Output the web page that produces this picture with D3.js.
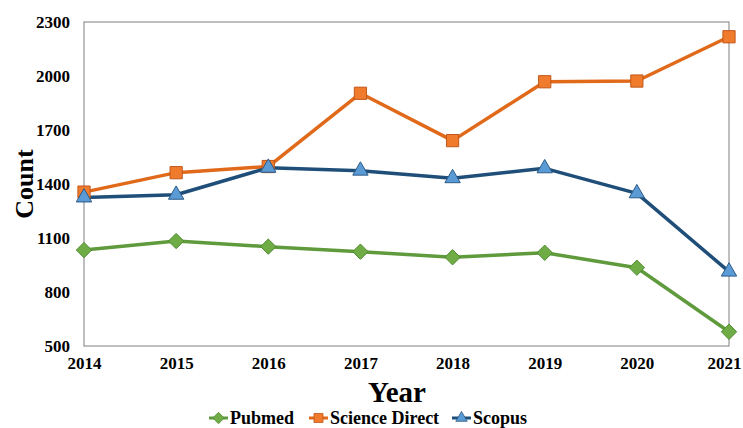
<!DOCTYPE html>
<html><head><meta charset="utf-8">
<script src="https://cdn.jsdelivr.net/npm/d3@7"></script>
<style>html,body{margin:0;padding:0;background:#fff;overflow:hidden} svg text{font-family:"Liberation Serif","Times New Roman",serif !important;font-weight:bold}</style>
</head><body><svg id="c" width="743" height="428"></svg>
<script>
const years = [2014, 2015, 2016, 2017, 2018, 2019, 2020, 2021];
const pubmed = [1033, 1083, 1052, 1024, 993, 1018, 935, 579];
const scienceDirect = [1355, 1463, 1497, 1904, 1641, 1968, 1972, 2218];
const scopus = [1325, 1340, 1490, 1474, 1432, 1487, 1348, 913];
const yTicks = [500, 800, 1100, 1400, 1700, 2000, 2300];
const seriesNames = ["Pubmed", "Science Direct", "Scopus"];

const series = [
  {name: seriesNames[0], values: pubmed, line: "#5f9a3c", fill: "#6fac46", stroke: "#4f8a30", shape: d3.symbolDiamond2, size: 150},
  {name: seriesNames[1], values: scienceDirect, line: "#e0691a", fill: "#f07b2c", stroke: "#c2571a", shape: d3.symbolSquare2, size: 190},
  {name: seriesNames[2], values: scopus, line: "#1f4e79", fill: "#5b9bd5", stroke: "#2c5a88", shape: d3.symbolTriangle2, size: 170}
];

const svg = d3.select("#c");
const L = 84, R = 729, T = 22, B = 346;
const x = d3.scaleLinear().domain([2014, 2021]).range([L, R]);
const y = d3.scaleLinear().domain([500, 2300]).range([B, T]);

svg.append("rect").attr("x", L).attr("y", T).attr("width", R - L).attr("height", B - T)
  .attr("fill", "none").attr("stroke", "#7f7f7f").attr("stroke-width", 1);

const yAxis = svg.append("g").attr("transform", `translate(${L},0)`)
  .call(d3.axisLeft(y).tickValues(yTicks).tickFormat(d3.format("d")).tickSize(0).tickPadding(14));
yAxis.select(".domain").remove();
yAxis.selectAll("text").attr("font-size", 17).attr("fill", "#000");

const xAxis = svg.append("g").attr("transform", `translate(0,${B})`)
  .call(d3.axisBottom(x).tickValues(years).tickFormat(d3.format("d")).tickSize(0).tickPadding(11));
xAxis.select(".domain").remove();
xAxis.selectAll("text").attr("font-size", 17).attr("fill", "#000")
  .attr("dx", d => d === years[years.length - 1] ? -5 : 0);

svg.append("text").attr("transform", "translate(33,184) rotate(-90)").attr("text-anchor", "middle")
  .attr("font-size", 26).text("Count");
svg.append("text").attr("x", 397).attr("y", 402).attr("text-anchor", "middle")
  .attr("font-size", 29).text("Year");

const line = d3.line().x((d, i) => x(years[i])).y(d => y(d));
series.forEach(s => {
  svg.append("path").datum(s.values).attr("d", line).attr("fill", "none")
    .attr("stroke", s.line).attr("stroke-width", 3.5).attr("stroke-linejoin", "round");
});
series.forEach(s => {
  svg.append("g").selectAll("path").data(s.values).join("path")
    .attr("transform", (d, i) => `translate(${x(years[i])},${y(d)})`)
    .attr("d", d3.symbol().type(s.shape).size(s.size))
    .attr("fill", s.fill).attr("stroke", s.stroke).attr("stroke-width", 1);
});

// legend
const legX = [209, 309, 452];
const lg = svg.append("g");
series.forEach((s, i) => {
  const g = lg.append("g").attr("transform", `translate(${legX[i]},418)`);
  g.append("line").attr("x1", 0).attr("x2", 19).attr("y1", 0).attr("y2", 0).attr("stroke", s.line).attr("stroke-width", 3);
  g.append("path").attr("transform", "translate(9.5,0)").attr("d", d3.symbol().type(s.shape).size(s.size * 0.55))
    .attr("fill", s.fill).attr("stroke", s.stroke).attr("stroke-width", 0.8);
  g.append("text").attr("x", 21).attr("y", 6).attr("font-size", 18).text(s.name);
});
</script></body></html>
